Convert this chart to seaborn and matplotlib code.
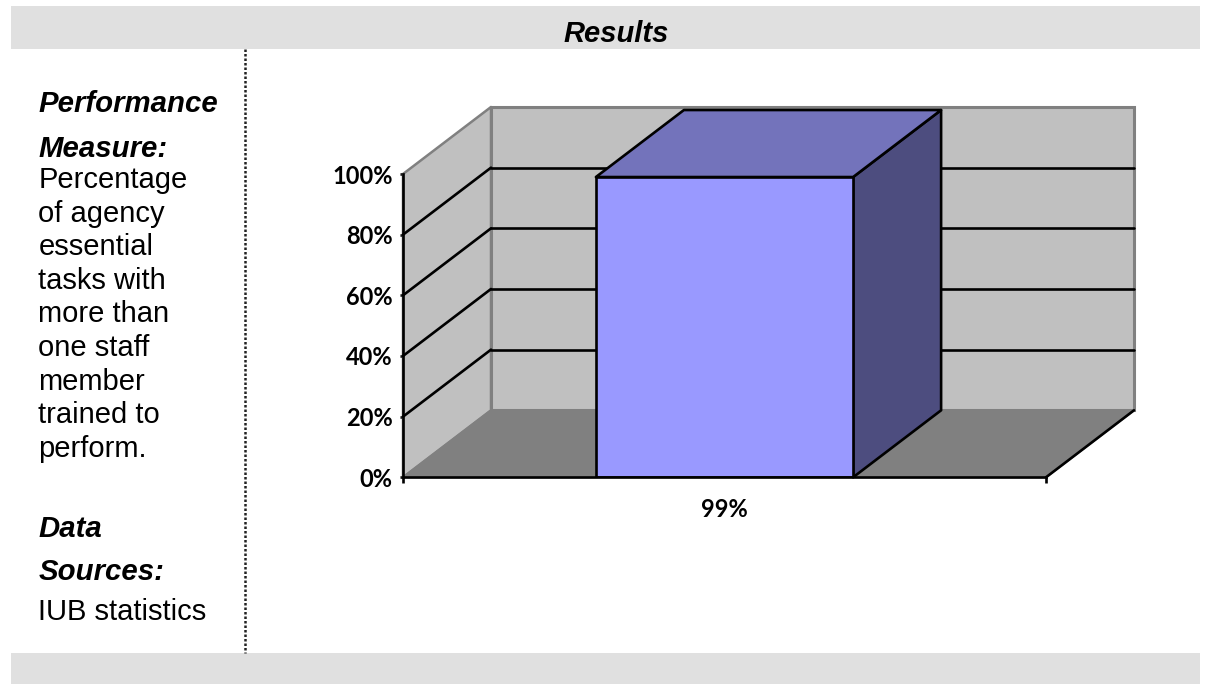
#!/usr/bin/env python3
import pandas as pd
import seaborn as sns
import matplotlib.pyplot as plt
from matplotlib.patches import Polygon, Rectangle
from matplotlib.transforms import Affine2D

categories = ["99%"]
values = [99]
y_ticks = [0, 20, 40, 60, 80, 100]
y_tick_labels = ["0%", "20%", "40%", "60%", "80%", "100%"]
title = "Results"
side_lines = [
    ("Performance", 104, True), ("Measure:", 149, True),
    ("Percentage", 180, False), ("of agency", 214, False),
    ("essential", 247, False), ("tasks with", 281, False),
    ("more than", 314, False), ("one staff", 348, False),
    ("member", 382, False), ("trained to", 415, False),
    ("perform.", 449, False), ("Data", 529, True),
    ("Sources:", 572, True), ("IUB statistics", 612, False),
]

W, H = 1211, 684
DEPTH_X, DEPTH_Y = 88, 67
WALL, FLOOR, EDGE = "#C0C0C0", "#808080", "#808080"
BAR, BAR_TOP, BAR_SIDE = "#9999FF", "#7373BB", "#4D4D7F"
BAND = "#E0E0E0"
LW = 1.9


def band(fig, top, bottom):
    fig.patches.append(Rectangle((11 / W, 1 - bottom / H), 1189 / W, (bottom - top) / H,
                                 transform=fig.transFigure, facecolor=BAND, edgecolor="none"))


def shifted(ax):
    return ax.transData + Affine2D().translate(DEPTH_X, DEPTH_Y)


def box_face(ax, p0, p1, color, edge, lw, z):
    # parallelogram from the front edge p0-p1 back to the rear plane
    back = shifted(ax)
    front = ax.transData
    pts = [front.transform(p0), front.transform(p1), back.transform(p1), back.transform(p0)]
    ax.add_patch(Polygon(pts, closed=True, transform=None, facecolor=color, edgecolor=edge,
                         linewidth=lw, zorder=z, clip_on=False, joinstyle="round"))


sns.set_theme(style="white")
fig = plt.figure(figsize=(W / 100, H / 100), dpi=100, facecolor="white")
ax = fig.add_axes([403 / W, 1 - 477.3 / H, 643 / W, 303.3 / H])

data = pd.DataFrame({"cat": categories, "val": values})
sns.barplot(data=data, x="cat", y="val", width=0.4, color=BAR, saturation=1,
            edgecolor="black", linewidth=LW, zorder=5, ax=ax)
ax.set_xlim(-0.5, 0.5)
ax.set_ylim(0, 100)
ax.patch.set_visible(False)
ax.set(xlabel="", ylabel="")

# walls and floor
box_face(ax, (-0.5, 0), (-0.5, 100), WALL, EDGE, 1.8, 1)
box_face(ax, (-0.5, 0), (0.5, 0), FLOOR, EDGE, 1.4, 2)
ax.add_patch(Rectangle((-0.5, 0), 1, 100, transform=shifted(ax), facecolor=WALL,
                       edgecolor=EDGE, linewidth=2.2, zorder=0.9, clip_on=False))
fr = ax.transData.transform
bk = shifted(ax).transform
ax.plot(*zip(fr((0.5, 0)), bk((0.5, 0))), transform=None, color="black", lw=LW, zorder=3,
        clip_on=False)

# gridlines on side and back wall
for t in y_ticks[1:-1]:
    ax.plot(*zip(fr((-0.5, t)), bk((-0.5, t))), transform=None, color="black", lw=LW,
            zorder=3, clip_on=False)
    ax.plot([-0.5, 0.5], [t, t], transform=shifted(ax), color="black", lw=LW, zorder=3,
            clip_on=False)

# bar depth faces come from the drawn bar
bar = ax.patches[0]
x0, x1, top = bar.get_x(), bar.get_x() + bar.get_width(), bar.get_height()
box_face(ax, (x1, 0), (x1, top), BAR_SIDE, "black", LW, 4)
box_face(ax, (x0, top), (x1, top), BAR_TOP, "black", LW, 4)

for side in ("top", "right"):
    ax.spines[side].set_visible(False)
for side in ("left", "bottom"):
    ax.spines[side].set_linewidth(LW)
    ax.spines[side].set_color("black")
    ax.spines[side].set_zorder(6)

tick_font = dict(family="Lato", fontweight="bold", fontsize=17, color="black")
ax.set_yticks(y_ticks)
ax.set_yticklabels(y_tick_labels, **tick_font)
ax.tick_params(axis="y", length=2.5, width=LW, pad=5, left=True, color="black")
ax.set_xticks([-0.5, 0.5])
ax.set_xticklabels(["", ""])
ax.tick_params(axis="x", which="major", length=4, width=LW, bottom=True, color="black")
ax.set_xticks([0], minor=True)
ax.set_xticklabels(categories, minor=True, **tick_font)
ax.tick_params(axis="x", which="minor", length=0, pad=15)

# page furniture around the chart
band(fig, 6, 49)
band(fig, 653, 684)
fig.add_artist(plt.Line2D([245 / W, 245 / W], [1 - 49 / H, 1 - 653 / H], color="#222222",
                          lw=1.8, linestyle=(0, (1, 0.8))))
fig.text(616 / W, 1 - 33.5 / H, title, ha="center", va="center", family="Liberation Sans",
         fontsize=21, fontweight="bold", fontstyle="italic", color="black")
for text, y, strong in side_lines:
    fig.text(38.5 / W, 1 - y / H, text, ha="left", va="center", family="Liberation Sans",
             fontsize=21.2 if strong else 21, color="black",
             fontweight="bold" if strong else "normal",
             fontstyle="italic" if strong else "normal")

fig.savefig("out.png", dpi=100)
